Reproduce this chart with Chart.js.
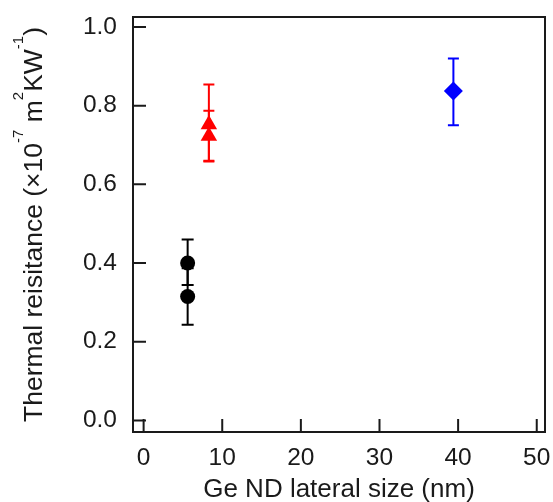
<!DOCTYPE html>
<html>
<head>
<meta charset="utf-8">
<script src="https://cdn.jsdelivr.net/npm/chart.js@4"></script>
<style>
  html, body { margin: 0; padding: 0; background: #fff; }
</style>
</head>
<body>
<canvas id="chartCanvas" width="553" height="502"></canvas>
<script>
const xTicks = [0, 10, 20, 30, 40, 50];
const yTicks = [0.0, 0.2, 0.4, 0.6, 0.8, 1.0];

// black circles
const circleX = [5.6, 5.6];
const circleY = [0.400, 0.315];
const circleErrPlus = [0.060, 0.072];
const circleErrMinus = [0.056, 0.072];

// red triangles
const triX = [8.3, 8.3];
const triY = [0.752, 0.723];
const triErrPlus = [0.102, 0.064];
const triErrMinus = [0.094, 0.063];

// blue diamond
const diaX = [39.4];
const diaY = [0.837];
const diaErrPlus = [0.083];
const diaErrMinus = [0.087];

const FONT = '"Liberation Sans", Arial, sans-serif';
const INK = '#1a1a1a';

function pts(xs, ys) {
  return xs.map((x, i) => ({ x: x, y: ys[i] }));
}

// fixed plot box, no label overflow padding
function fixBox(s, size) {
  if (s.isHorizontal()) s.height = size; else s.width = size;
  s.paddingTop = 0; s.paddingBottom = 0; s.paddingLeft = 0; s.paddingRight = 0;
}

const errorSets = [
  { x: circleX, y: circleY, up: circleErrPlus, down: circleErrMinus, color: '#000000', cap: 6 },
  { x: triX, y: triY, up: triErrPlus, down: triErrMinus, color: '#ff0000', cap: 5.5 },
  { x: diaX, y: diaY, up: diaErrPlus, down: diaErrMinus, color: '#0000ff', cap: 5.5 }
];

const errorBars = {
  id: 'errorBars',
  beforeDatasetsDraw(c) {
    const ctx = c.ctx, xs = c.scales.x, ys = c.scales.y;
    ctx.save();
    ctx.lineWidth = 2;
    errorSets.forEach(s => {
      ctx.strokeStyle = s.color;
      s.x.forEach((xv, i) => {
        const px = xs.getPixelForValue(xv);
        const top = ys.getPixelForValue(s.y[i] + s.up[i]);
        const bot = ys.getPixelForValue(s.y[i] - s.down[i]);
        ctx.beginPath();
        ctx.moveTo(px, top); ctx.lineTo(px, bot);
        ctx.moveTo(px - s.cap, top); ctx.lineTo(px + s.cap, top);
        ctx.moveTo(px - s.cap, bot); ctx.lineTo(px + s.cap, bot);
        ctx.stroke();
      });
    });
    ctx.restore();
  }
};

const frame = {
  id: 'frame',
  afterDraw(c) {
    const ctx = c.ctx, a = c.chartArea, xs = c.scales.x, ys = c.scales.y;
    ctx.save();
    ctx.strokeStyle = INK;
    ctx.lineWidth = 2;
    ctx.strokeRect(a.left, a.top, a.right - a.left, a.bottom - a.top);
    // inward ticks
    ctx.beginPath();
    xTicks.forEach(v => {
      const px = xs.getPixelForValue(v);
      ctx.moveTo(px, a.bottom); ctx.lineTo(px, a.bottom - 13);
    });
    yTicks.forEach(v => {
      const py = ys.getPixelForValue(v);
      ctx.moveTo(a.left, py); ctx.lineTo(a.left + 13, py);
    });
    ctx.stroke();

    ctx.fillStyle = INK;
    // x title
    ctx.font = '26px ' + FONT;
    ctx.textAlign = 'center';
    ctx.textBaseline = 'alphabetic';
    ctx.fillText('Ge ND lateral size (nm)', (a.left + a.right) / 2, 497);

    // y title with superscripts
    const parts = [
      ['Thermal reisitance (\u00d710', false],
      ['-7', true],
      [' m', false],
      ['2', true],
      ['KW', false],
      ['-1', true],
      [')', false]
    ];
    const big = '26.5px ' + FONT, small = '15px ' + FONT;
    let total = 0;
    parts.forEach(p => { ctx.font = p[1] ? small : big; total += ctx.measureText(p[0]).width; });
    ctx.translate(41.5, (a.top + a.bottom) / 2);
    ctx.rotate(-Math.PI / 2);
    ctx.textAlign = 'left';
    let x = -total / 2;
    parts.forEach(p => {
      ctx.font = p[1] ? small : big;
      ctx.fillText(p[0], x, p[1] ? -19 : 0);
      x += ctx.measureText(p[0]).width;
    });
    ctx.restore();
  }
};

const ctx = document.getElementById('chartCanvas').getContext('2d');
const chart = new Chart(ctx, {
  type: 'scatter',
  data: {
    datasets: [
      {
        data: pts(circleX, circleY),
        pointStyle: 'circle',
        pointRadius: 7.5,
        backgroundColor: '#000000',
        borderColor: '#000000',
        borderWidth: 0
      },
      {
        data: pts(triX, triY),
        pointStyle: 'triangle',
        pointRadius: 9.5,
        backgroundColor: '#ff0000',
        borderColor: '#ff0000',
        borderWidth: 0
      },
      {
        data: pts(diaX, diaY),
        pointStyle: 'rectRot',
        pointRadius: 9.5,
        backgroundColor: '#0000ff',
        borderColor: '#0000ff',
        borderWidth: 0
      }
    ]
  },
  options: {
    responsive: false,
    animation: false,
    layout: { autoPadding: false, padding: { top: 17, right: 8, left: 0, bottom: 0 } },
    plugins: {
      legend: { display: false },
      tooltip: { enabled: false }
    },
    scales: {
      x: {
        type: 'linear',
        min: -1.35,
        max: 51.05,
        afterBuildTicks: s => { s.ticks = xTicks.map(v => ({ value: v })); },
        afterFit: s => fixBox(s, 70),
        grid: { display: false },
        border: { display: false },
        ticks: {
          color: INK,
          padding: 4,
          font: { family: FONT, size: 24.5 },
          maxRotation: 0,
          callback: v => String(v)
        }
      },
      y: {
        type: 'linear',
        min: -0.0294,
        max: 1.0254,
        afterBuildTicks: s => { s.ticks = yTicks.map(v => ({ value: v })); },
        afterFit: s => fixBox(s, 133),
        grid: { display: false },
        border: { display: false },
        ticks: {
          color: INK,
          padding: 8,
          font: { family: FONT, size: 24.5 },
          callback: v => v.toFixed(1)
        }
      }
    }
  },
  plugins: [errorBars, frame]
});
</script>
</body>
</html>
